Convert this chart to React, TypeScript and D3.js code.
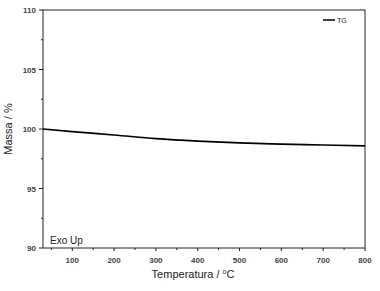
import React from "react";
import * as d3 from "d3";

const temps = [30, 100, 200, 300, 400, 500, 600, 700, 800];
const mass = [100.0, 99.78, 99.5, 99.19, 98.98, 98.83, 98.73, 98.65, 98.58];
const xTicks = [100, 200, 300, 400, 500, 600, 700, 800];
const xMinor = [50, 150, 250, 350, 450, 550, 650, 750];
const yTicks = [90, 95, 100, 105, 110];
const yMinor = [92.5, 97.5, 102.5, 107.5];

const W = 380, H = 291;
const L = 43, R = 365, T = 10, B = 248;

export default function App() {
  const x = d3.scaleLinear().domain([30, 800]).range([L, R]);
  const y = d3.scaleLinear().domain([90, 110]).range([B, T]);
  const data = temps.map((t, i) => [t, mass[i]] as [number, number]);
  const line = d3.line<[number, number]>().x(d => x(d[0])).y(d => y(d[1])).curve(d3.curveMonotoneX);
  const tickFont = "Arial, 'Liberation Sans', sans-serif";
  return (
    <svg width={W} height={H} style={{ position: "absolute", left: 0, top: 0, background: "#fff" }}>
      <rect x={0} y={0} width={W} height={H} fill="#fff" />
      <rect x={L} y={T} width={R - L} height={B - T} fill="none" stroke="#222" strokeWidth={1} />
      {yTicks.map(v => (
        <g key={"y" + v}>
          <line x1={L - 4} x2={L} y1={y(v)} y2={y(v)} stroke="#222" />
          <text x={L - 7} y={y(v) + 3} fontSize={8} fontFamily={tickFont} fontWeight="bold" fill="#444" textAnchor="end">{v}</text>
        </g>
      ))}
      {yMinor.map(v => (
        <line key={"ym" + v} x1={L - 2} x2={L} y1={y(v)} y2={y(v)} stroke="#222" />
      ))}
      {xTicks.map(v => (
        <g key={"x" + v}>
          <line x1={x(v)} x2={x(v)} y1={B} y2={B + 3} stroke="#222" />
          <text x={x(v)} y={B + 15} fontSize={8} fontFamily={tickFont} fontWeight="bold" fill="#444" textAnchor="middle">{v}</text>
        </g>
      ))}
      {xMinor.map(v => (
        <line key={"xm" + v} x1={x(v)} x2={x(v)} y1={B} y2={B + 2} stroke="#222" />
      ))}
      <path d={line(data) || ""} fill="none" stroke="#000" strokeWidth={1.6} />
      <line x1={323} x2={335} y1={20} y2={20} stroke="#000" strokeWidth={1.5} />
      <text x={337} y={22.5} fontSize={7} fontFamily={tickFont} fill="#222">TG</text>
      <text x={50} y={244} fontSize={10} fontFamily={tickFont} fill="#222">Exo Up</text>
      <text x={193} y={278} fontSize={11} fontFamily={tickFont} fill="#222" textAnchor="middle">
        Temperatura / <tspan fontSize={7} dy={-4}>o</tspan><tspan dy={4}>C</tspan>
      </text>
      <text transform={`translate(12, ${(T + B) / 2}) rotate(-90)`} fontSize={11} fontFamily={tickFont} fill="#222" textAnchor="middle">Massa / %</text>
    </svg>
  );
}
